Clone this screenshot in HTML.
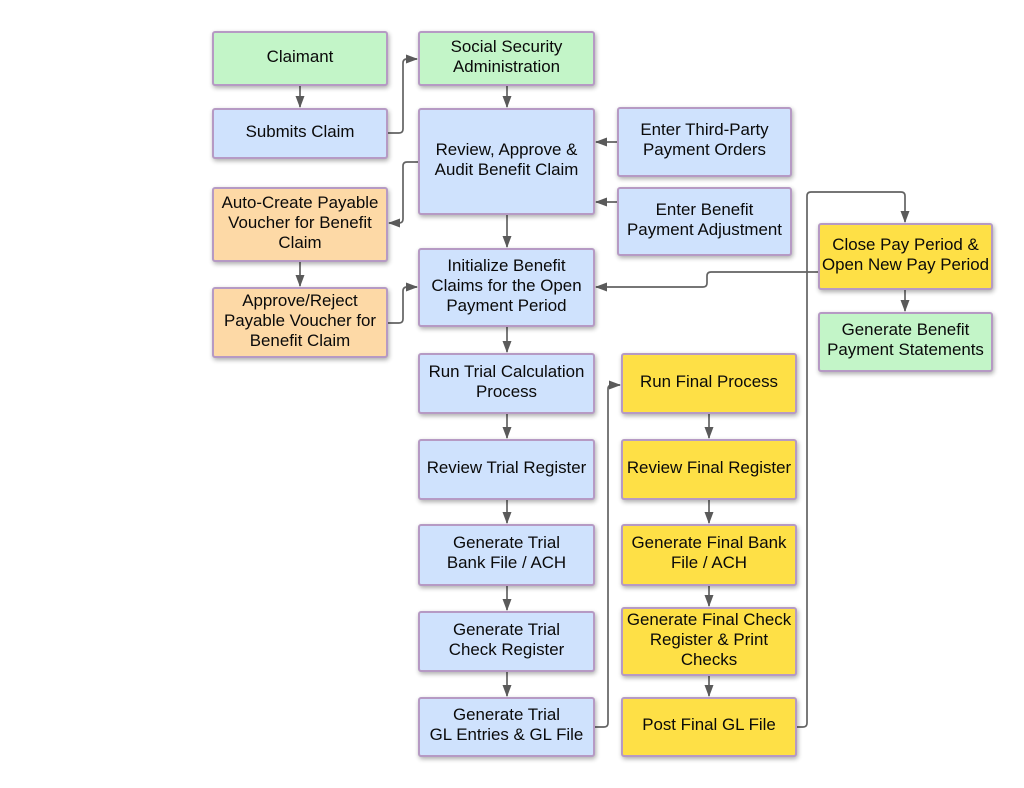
<!DOCTYPE html>
<html><head><meta charset="utf-8"><style>
html,body{margin:0;padding:0;background:#fff;}
body{width:1024px;height:788px;position:relative;overflow:hidden;font-family:"Liberation Sans",Arial,sans-serif;}
.b{position:absolute;box-sizing:border-box;border:2px solid #b69ac4;border-radius:3px;display:flex;align-items:center;justify-content:center;text-align:center;font-size:16.9px;line-height:20px;color:#0a0a0a;box-shadow:1px 2px 5px rgba(0,0,0,0.33);padding-bottom:4px;}
.g{background:#c3f5c8;}
.u{background:#cfe2fd;}
.o{background:#fdd9a6;}
.y{background:#fee046;}
svg{position:absolute;left:0;top:0;}
</style></head><body>
<svg width="1024" height="788" viewBox="0 0 1024 788">
<defs><marker id="a" markerWidth="12" markerHeight="10" refX="11" refY="5" orient="auto" markerUnits="userSpaceOnUse"><path d="M0,0.5 L12,5 L0,9.5 Z" fill="#5a5a5a"/></marker></defs>
<g fill="none" stroke="#636363" stroke-width="1.7" marker-end="url(#a)">
<path d="M300,86 V107"/>
<path d="M388,133 H399 Q403,133 403,129 V63 Q403,59 407,59 H417"/>
<path d="M507,86 V107"/>
<path d="M617,142 H596"/>
<path d="M617,202 H596"/>
<path d="M418,162 H407 Q403,162 403,166 V219 Q403,223 399,223 H389"/>
<path d="M300,262 V286"/>
<path d="M388,323 H399 Q403,323 403,319 V291 Q403,287 407,287 H417"/>
<path d="M507,215 V247"/>
<path d="M818,272 H711 Q707,272 707,276 V283 Q707,287 703,287 H596"/>
<path d="M797,727 H803 Q807,727 807,723 V196 Q807,192 811,192 H901 Q905,192 905,196 V222"/>
<path d="M905,290 V311"/>
<path d="M507,327 V352"/>
<path d="M507,414 V438"/>
<path d="M507,500 V523"/>
<path d="M507,586 V610"/>
<path d="M507,672 V696"/>
<path d="M709,414 V438"/>
<path d="M709,500 V523"/>
<path d="M709,586 V606"/>
<path d="M709,676 V696"/>
<path d="M595,727 H604 Q608,727 608,723 V389 Q608,385 612,385 H620"/>
</g>
</svg>
<div class="b g" style="left:212px;top:31px;width:176px;height:55px;">Claimant</div>
<div class="b g" style="left:418px;top:31px;width:177px;height:55px;">Social Security<br>Administration</div>
<div class="b u" style="left:212px;top:108px;width:176px;height:51px;">Submits Claim</div>
<div class="b u" style="left:418px;top:108px;width:177px;height:107px;">Review, Approve &amp;<br>Audit Benefit Claim</div>
<div class="b u" style="left:617px;top:107px;width:175px;height:70px;">Enter Third-Party<br>Payment Orders</div>
<div class="b u" style="left:617px;top:187px;width:175px;height:69px;">Enter Benefit<br>Payment Adjustment</div>
<div class="b o" style="left:212px;top:187px;width:176px;height:75px;">Auto-Create Payable<br>Voucher for Benefit<br>Claim</div>
<div class="b o" style="left:212px;top:287px;width:176px;height:71px;">Approve/Reject<br>Payable Voucher for<br>Benefit Claim</div>
<div class="b u" style="left:418px;top:248px;width:177px;height:79px;">Initialize Benefit<br>Claims for the Open<br>Payment Period</div>
<div class="b y" style="left:818px;top:223px;width:175px;height:67px;">Close Pay Period &amp;<br>Open New Pay Period</div>
<div class="b g" style="left:818px;top:312px;width:175px;height:60px;">Generate Benefit<br>Payment Statements</div>
<div class="b u" style="left:418px;top:353px;width:177px;height:61px;">Run Trial Calculation<br>Process</div>
<div class="b y" style="left:621px;top:353px;width:176px;height:61px;">Run Final Process</div>
<div class="b u" style="left:418px;top:439px;width:177px;height:61px;">Review Trial Register</div>
<div class="b y" style="left:621px;top:439px;width:176px;height:61px;">Review Final Register</div>
<div class="b u" style="left:418px;top:524px;width:177px;height:62px;">Generate Trial<br>Bank File / ACH</div>
<div class="b y" style="left:621px;top:524px;width:176px;height:62px;">Generate Final Bank<br>File / ACH</div>
<div class="b u" style="left:418px;top:611px;width:177px;height:61px;">Generate Trial<br>Check Register</div>
<div class="b y" style="left:621px;top:607px;width:176px;height:69px;">Generate Final Check<br>Register &amp; Print<br>Checks</div>
<div class="b u" style="left:418px;top:697px;width:177px;height:60px;">Generate Trial<br>GL Entries &amp; GL File</div>
<div class="b y" style="left:621px;top:697px;width:176px;height:60px;">Post Final GL File</div>
</body></html>
